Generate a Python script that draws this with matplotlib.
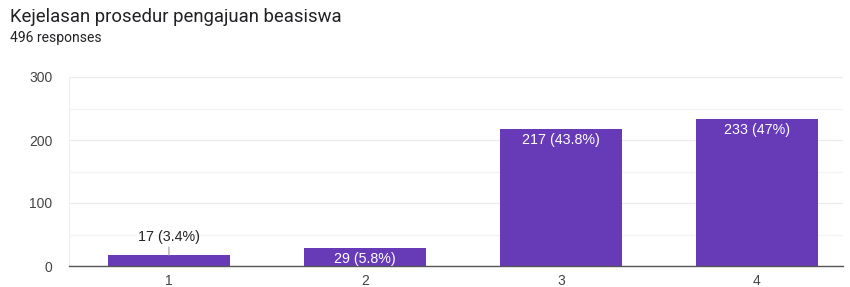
import matplotlib
matplotlib.use("Agg")
import matplotlib.pyplot as plt
from matplotlib.ticker import MultipleLocator

categories = ["1", "2", "3", "4"]
counts = [17, 29, 217, 233]
pct_labels = ["3.4%", "5.8%", "43.8%", "47%"]
title = "Kejelasan prosedur pengajuan beasiswa"
subtitle = "496 responses"
yticks = [0, 100, 200, 300]

BAR = "#673ab7"
fig = plt.figure(figsize=(8.5, 2.87), dpi=100)
ax = fig.add_axes([69/850, (287-266)/287, (843-69)/850, (266-77)/287])

x = [1, 2, 3, 4]
ax.bar(x, counts, width=0.62, color=BAR, zorder=3)

ax.set_xlim(0.49, 4.44)
ax.set_ylim(0, 300)
ax.set_yticks(yticks)
ax.yaxis.set_minor_locator(MultipleLocator(50))
ax.set_xticks(x)
ax.set_xticklabels(categories)
ax.grid(axis="y", which="major", color="#ebebeb", lw=0.9, zorder=0)
ax.grid(axis="y", which="minor", color="#f4f4f4", lw=0.9, zorder=0)
for s in ["top", "right"]:
    ax.spines[s].set_visible(False)
ax.spines["left"].set_color("#f0f0f0")
ax.spines["bottom"].set_color("#555555")
ax.spines["bottom"].set_linewidth(1.0)
ax.spines["bottom"].set_zorder(4)
ax.tick_params(axis="both", which="both", length=0, labelsize=10,
               labelcolor="#444444", labelfontfamily="Liberation Sans")
ax.tick_params(axis="y", pad=12)
ax.tick_params(axis="x", pad=6)

for xi, c, p in zip(x, counts, pct_labels):
    lab = f"{c} ({p})"
    if c < 25:
        ax.annotate(lab, xy=(xi, c), xytext=(0, 8), textcoords="offset points",
                    ha="center", va="bottom", fontsize=10.3, color="#222222",
                    family="Liberation Sans",
                    arrowprops=dict(arrowstyle="-", color="#999999", lw=0.8,
                                    shrinkA=0, shrinkB=0))
    else:
        ax.annotate(lab, xy=(xi, c), xytext=(0, -8), textcoords="offset points",
                    ha="center", va="center", fontsize=10.3, color="white",
                    family="Liberation Sans", zorder=5)

fig.text(10/850, 1 - 17/287, title, fontsize=13.3, color="#202124",
         family="Roboto", ha="left", va="center")
fig.text(10/850, 1 - 38/287, subtitle, fontsize=10, color="#202124",
         family="Roboto", ha="left", va="center")

fig.savefig("out.png", dpi=100)
